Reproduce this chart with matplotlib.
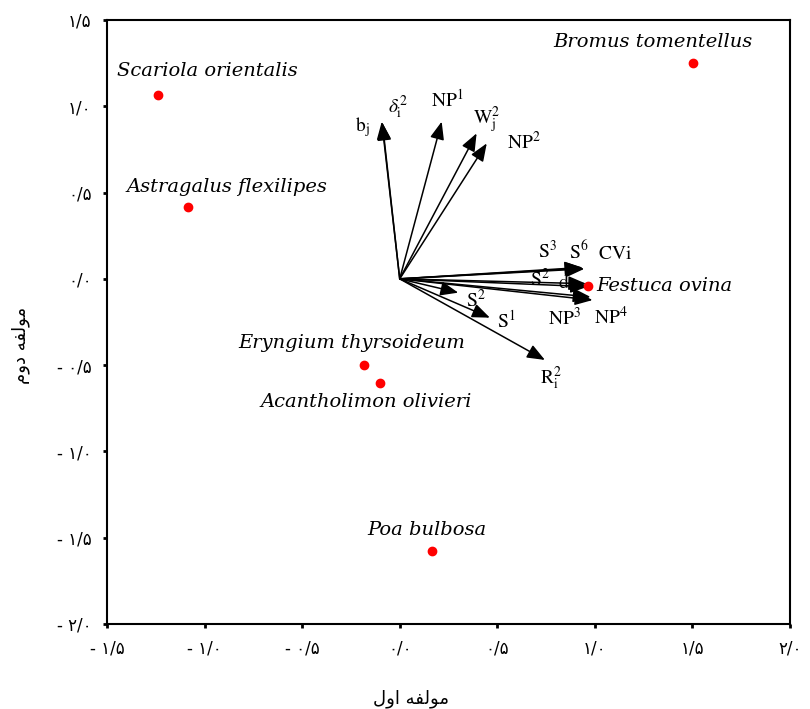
import matplotlib
matplotlib.use('Agg')
import matplotlib.pyplot as plt
import numpy as np

plt.rcParams['mathtext.fontset'] = 'stix'

# species scores
species = ['Bromus tomentellus', 'Scariola orientalis', 'Astragalus flexilipes', 'Festuca ovina',
           'Eryngium thyrsoideum', 'Acantholimon olivieri', 'Poa bulbosa']
sp_x = [1.503, -1.237, -1.083, 0.965, -0.183, -0.101, 0.167]
sp_y = [1.251, 1.065, 0.418, -0.041, -0.499, -0.602, -1.575]
# label offsets (points) and alignment
sp_off = [(-29, 15), (35, 17), (28, 14), (6, 0), (-9, 16), (-10, -14), (-4, 15)]
sp_ha = ['center', 'center', 'center', 'left', 'center', 'center', 'center']

# variable vectors
var_names = [r'$\mathrm{b_j}$', r'$\delta^2_{\mathrm{i}}$', r'$\mathrm{NP^1}$', r'$\mathrm{W^2_j}$',
             r'$\mathrm{NP^2}$', r'$\mathrm{S^3}$', r'$\mathrm{S^6}$', r'$\mathrm{CVi}$',
             r'$\mathrm{S^2}$', r'$\mathrm{d_i}$', r'$\mathrm{NP^3}$', r'$\mathrm{NP^4}$',
             r'$\mathrm{S^2}$', r'$\mathrm{S^1}$', r'$\mathrm{R^2_i}$']
var_x = [-0.092, -0.089, 0.215, 0.394, 0.446, 0.935, 0.941, 0.946, 0.955, 0.965, 0.978, 0.988, 0.300, 0.462, 0.744]
var_y = [0.911, 0.905, 0.911, 0.843, 0.785, 0.066, 0.062, 0.058, -0.028, -0.045, -0.105, -0.123, -0.080, -0.225, -0.470]
var_off = [(-14, -4), (11, 11), (4, 16), (7, 10), (27, 1), (-25, 12), (-3, 12), (22, 11),
           (-33, 3), (-16, 3), (-19, -15), (13, -12), (13, -5), (12, -2), (4, -13)]

xticks = [-1.5, -1.0, -0.5, 0.0, 0.5, 1.0, 1.5, 2.0]
yticks = [-2.0, -1.5, -1.0, -0.5, 0.0, 0.5, 1.0, 1.5]

# Persian axis titles (presentation forms, visual order)
xlabel = '\uFEDD\uFEED\uFE8D \uFEEA\uFED4\uFEDF\uFEEE\uFEE3'   # مولفه اول
ylabel = '\uFEE1\uFEED\uFEA9 \uFEEA\uFED4\uFEDF\uFEEE\uFEE3'   # مولفه دوم

fa_digits = str.maketrans('0123456789', '۰۱۲۳۴۵۶۷۸۹')

def fa(v):
    s = f'{abs(v):.1f}'.replace('.', '/').translate(fa_digits)
    return '- ' + s if v < 0 else s

fig = plt.figure(figsize=(8.1, 7.09), dpi=100)
ax = fig.add_axes([0.1321, 0.1199, 0.8432, 0.8519])

for i in range(len(var_names)):
    ax.annotate('', xy=(var_x[i], var_y[i]), xytext=(0, 0),
                arrowprops=dict(arrowstyle='-|>,head_length=0.9,head_width=0.36', color='black',
                                lw=1.1, mutation_scale=12, shrinkA=0, shrinkB=0))
    ax.annotate(var_names[i], xy=(var_x[i], var_y[i]), xytext=var_off[i], textcoords='offset points',
                ha='center', va='center', fontsize=14)

ax.plot(sp_x, sp_y, 'o', color='#ff0000', markersize=6, zorder=5)
for i in range(len(species)):
    ax.annotate(species[i], xy=(sp_x[i], sp_y[i]), xytext=sp_off[i], textcoords='offset points',
                ha=sp_ha[i], va='center', fontsize=14, family='DejaVu Serif', style='italic')

ax.set_xlim(-1.5, 2.0)
ax.set_ylim(-2.0, 1.5)
ax.set_xticks(xticks)
ax.set_yticks(yticks)
ax.set_xticklabels([fa(v) for v in xticks], fontsize=12)
ax.set_yticklabels([fa(v) for v in yticks], fontsize=12)
ax.tick_params(direction='out', length=3, width=2, pad=8)
for s in ax.spines.values():
    s.set_linewidth(1.5)

ax.set_xlabel(xlabel, fontsize=13)
ax.set_ylabel(ylabel, fontsize=13)
ax.xaxis.set_label_coords(0.445, -0.109)
ax.yaxis.set_label_coords(-0.113, 0.462)

fig.savefig('out.png', dpi=100)
